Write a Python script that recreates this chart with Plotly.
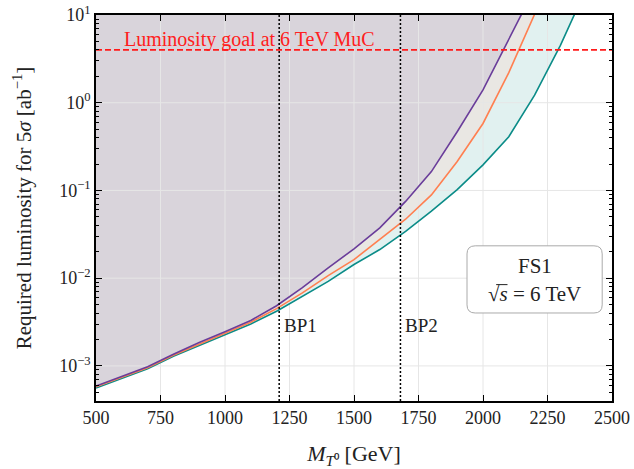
import math
import plotly.graph_objects as go

# Required luminosity for a 5 sigma discovery vs. T0 mass (FS1, sqrt(s) = 6 TeV)
mass_purple = [500, 700, 800, 900, 1000, 1100, 1200, 1300, 1400, 1500, 1600, 1700, 1800, 1900, 2000, 2100, 2200]
lumi_purple = [5.9e-4, 9.8e-4, 1.36e-3, 1.85e-3, 2.45e-3, 3.3e-3, 4.85e-3, 7.8e-3, 1.31e-2, 2.16e-2, 3.74e-2,
               7.5e-2, 0.164, 0.467, 1.4, 5.4, 20.0]

mass_orange = [500, 700, 800, 900, 1000, 1100, 1200, 1300, 1400, 1500, 1600, 1700, 1800, 1900, 2000, 2100, 2200]
lumi_orange = [5.8e-4, 9.5e-4, 1.32e-3, 1.78e-3, 2.35e-3, 3.15e-3, 4.5e-3, 6.8e-3, 1.07e-2, 1.63e-2, 2.75e-2,
               4.7e-2, 8.9e-2, 0.214, 0.58, 2.2, 10.2]

mass_teal = [500, 700, 800, 900, 1000, 1100, 1200, 1300, 1400, 1500, 1600, 1700, 1800, 1900, 2000, 2100, 2200, 2300, 2400]
lumi_teal = [5.6e-4, 9.3e-4, 1.29e-3, 1.72e-3, 2.25e-3, 3.0e-3, 4.2e-3, 6.25e-3, 9.2e-3, 1.43e-2, 2.12e-2,
             3.42e-2, 5.8e-2, 0.102, 0.196, 0.41, 1.22, 4.5, 20.0]

lumi_goal = 4.0                      # ab^-1, 6 TeV MuC target
benchmarks = {"BP1": 1210, "BP2": 1680}

x_ticks = [500, 750, 1000, 1250, 1500, 1750, 2000, 2250, 2500]
y_decades = [-3, -2, -1, 0, 1]
y_ticktext = ["10<sup>−3</sup>", "10<sup>−2</sup>", "10<sup>−1</sup>", "10<sup>0</sup>", "10<sup>1</sup>"]

X_RANGE = [500, 2500]
Y_LOG_RANGE = [-3.4, 1.0]
Y_CEIL = 1e3

C_PURPLE, C_ORANGE, C_TEAL = "#6a3d9a", "#ff7f50", "#0b8c88"
F_PURPLE, F_ORANGE, F_TEAL = "#d9d4db", "#e9e7e3", "#e1f1f0"
FONT = "Liberation Serif"

fig = go.Figure()

# shaded regions: everything above each curve (teal first so purple sits on top)
for xs, ys, fc in [(mass_teal, lumi_teal, F_TEAL), (mass_orange, lumi_orange, F_ORANGE),
                   (mass_purple, lumi_purple, F_PURPLE)]:
    fig.add_trace(go.Scatter(x=xs + [xs[-1], xs[0]], y=ys + [Y_CEIL, Y_CEIL], fill="toself",
                             fillcolor=fc, line=dict(width=0), mode="lines",
                             hoverinfo="skip", showlegend=False))

# grid lines drawn above the shading, below the curves
y_lo, y_hi = 10 ** Y_LOG_RANGE[0], 10 ** Y_LOG_RANGE[1]
for xv in x_ticks[1:-1]:
    fig.add_trace(go.Scatter(x=[xv, xv], y=[y_lo, y_hi], mode="lines",
                             line=dict(color="#e6e6e6", width=1), hoverinfo="skip", showlegend=False))
for d in y_decades[:-1]:
    fig.add_trace(go.Scatter(x=X_RANGE, y=[10 ** d, 10 ** d], mode="lines",
                             line=dict(color="#e6e6e6", width=1), hoverinfo="skip", showlegend=False))

# curves
for xs, ys, lc in [(mass_teal, lumi_teal, C_TEAL), (mass_orange, lumi_orange, C_ORANGE),
                   (mass_purple, lumi_purple, C_PURPLE)]:
    fig.add_trace(go.Scatter(x=xs, y=ys, mode="lines", line=dict(color=lc, width=1.6),
                             showlegend=False))

# luminosity goal
fig.add_trace(go.Scatter(x=X_RANGE, y=[lumi_goal, lumi_goal], mode="lines",
                         line=dict(color="#ff1a1a", width=1.7, dash="6px,3px"), showlegend=False))

# benchmark points
for name, m in benchmarks.items():
    fig.add_trace(go.Scatter(x=[m, m], y=[y_lo, y_hi], mode="lines",
                             line=dict(color="black", width=1.5, dash="2px,2px"), showlegend=False))
    fig.add_annotation(x=m, y=math.log10(2.9e-3), xref="x", yref="y", text=name, showarrow=False,
                       xanchor="left", yanchor="middle", xshift=3,
                       font=dict(family=FONT, size=19, color="#222"))

fig.add_annotation(x=600, y=math.log10(lumi_goal), xref="x", yref="y",
                   text="Luminosity goal at 6 TeV MuC", showarrow=False,
                   xanchor="left", yanchor="middle", yshift=10,
                   font=dict(family=FONT, size=20, color="#ff2020"))

# info box with rounded corners
bx0, bx1, by0, by1 = 0.719, 0.981, 0.228, 0.402
rx, ry = 0.016, 0.021
box_path = (f"M {bx0 + rx},{by0} L {bx1 - rx},{by0} Q {bx1},{by0} {bx1},{by0 + ry} "
            f"L {bx1},{by1 - ry} Q {bx1},{by1} {bx1 - rx},{by1} "
            f"L {bx0 + rx},{by1} Q {bx0},{by1} {bx0},{by1 - ry} "
            f"L {bx0},{by0 + ry} Q {bx0},{by0} {bx0 + rx},{by0} Z")
fig.add_shape(type="path", path=box_path, xref="paper", yref="paper",
              fillcolor="white", line=dict(color="#aaaaaa", width=1), layer="above")
fig.add_annotation(x=(bx0 + bx1) / 2, y=0.350, xref="paper", yref="paper", text="FS1",
                   showarrow=False, xanchor="center", yanchor="middle",
                   font=dict(family=FONT, size=21, color="#222"))
fig.add_annotation(x=(bx0 + bx1) / 2, y=0.277, xref="paper", yref="paper",
                   text="√<i>s</i> = 6 TeV", showarrow=False, xanchor="center", yanchor="middle",
                   font=dict(family=FONT, size=21, color="#222"))
# vinculum of the square root
fig.add_shape(type="line", xref="paper", yref="paper", x0=0.7755, x1=0.7975, y0=0.3015, y1=0.3015,
              line=dict(color="#222", width=1), layer="above")

minor_vals = [k * 10 ** d for d in range(-4, 1) for k in range(2, 10)]

axis_common = dict(showline=True, linecolor="black", linewidth=1.6, mirror="allticks",
                   ticks="inside", ticklen=6, tickwidth=1, tickcolor="black",
                   showgrid=False, zeroline=False, automargin=False,
                   tickfont=dict(family=FONT, size=18, color="#222"))

fig.update_layout(
    width=634, height=469,
    margin=dict(l=96, r=22, t=15, b=68),
    paper_bgcolor="white", plot_bgcolor="white",
    xaxis=dict(range=X_RANGE, tickvals=x_ticks, ticktext=[str(v) for v in x_ticks],
               title=dict(text="<i>M</i><sub><i>T</i>⁰</sub> [GeV]", standoff=20,
                          font=dict(family=FONT, size=22, color="#222")),
               **axis_common),
    yaxis=dict(type="log", range=Y_LOG_RANGE, tickvals=[10 ** d for d in y_decades],
               ticktext=y_ticktext,
               minor=dict(tickvals=minor_vals, ticks="inside", ticklen=3, tickcolor="black"),
               title=dict(text="Required luminosity for 5<i>σ</i> [ab<sup>−1</sup>]", standoff=22,
                          font=dict(family=FONT, size=21, color="#222")),
               **axis_common),
)

fig.write_html("out.html")
